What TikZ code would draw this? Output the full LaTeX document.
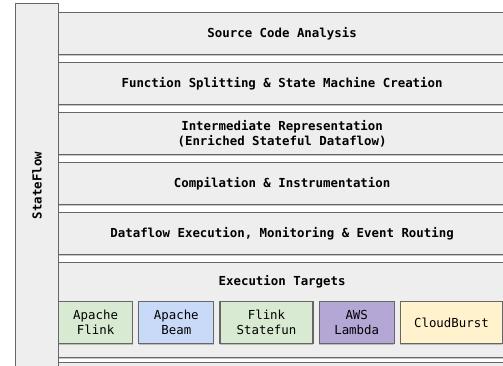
\documentclass[tikz,border=0pt]{standalone}
\usepackage{fontspec}
\setmonofont{DejaVu Sans Mono}
\usetikzlibrary{positioning,shadows}

\definecolor{layerfill}{HTML}{EEEEEE}
\definecolor{edgegray}{HTML}{666666}
\definecolor{flinkgreen}{HTML}{D9EAD3}
\definecolor{beamblue}{HTML}{C9DAF8}
\definecolor{lambdapurple}{HTML}{B4A7D6}
\definecolor{burstyellow}{HTML}{FFF2CC}

\begin{document}
\begin{tikzpicture}[x=1pt, y=1pt, node distance=6.8pt,
    base/.style={draw=edgegray, line width=1.2pt, fill=layerfill, inner sep=0pt,
        drop shadow={shadow xshift=0pt, shadow yshift=-1.6pt, opacity=0.45}},
    layer/.style={base, rectangle, minimum width=447pt, minimum height=42pt, align=center,
        font=\ttfamily\bfseries\fontsize{12.4}{14.5}\selectfont},
    target/.style={base, rectangle, minimum height=42pt, align=center,
        font=\ttfamily\fontsize{12.4}{15}\selectfont}]
    \useasboundingbox (0,0) rectangle (503,366);
    \clip (0,0) rectangle (503,366);

    \node(source)[layer, anchor=north west] at (58,354) {Source Code Analysis};
    \node(split)[layer, below=of source] {Function Splitting \& State Machine Creation};
    \node(ir)[layer, below=of split] {Intermediate Representation\\(Enriched Stateful Dataflow)};
    \node(compile)[layer, below=of ir] {Compilation \& Instrumentation};
    \node(runtime)[layer, below=of compile] {Dataflow Execution, Monitoring \& Event Routing};
    \node(targets)[layer, below=of runtime, minimum height=95pt] {};
    \node(next)[layer, below=4pt of targets] {};

    \node(targetlabel)[font=\ttfamily\bfseries\fontsize{12.4}{14.5}\selectfont, below=10pt of targets.north] {Execution Targets};
    \node(flink)[target, fill=flinkgreen, minimum width=74pt, anchor=north west] at (58,65) {Apache\\Flink};
    \node(beam)[target, fill=beamblue, minimum width=75pt, right=5pt of flink] {Apache\\Beam};
    \node(statefun)[target, fill=flinkgreen, minimum width=93pt, right=5pt of beam] {Flink\\Statefun};
    \node(lambda)[target, fill=lambdapurple, minimum width=75pt, right=5pt of statefun] {AWS\\Lambda};
    \node(cloudburst)[target, fill=burstyellow, minimum width=102pt, right=5pt of lambda] {CloudBurst};

    \node(stateflow)[base, rectangle, minimum width=43pt, minimum height=364pt, anchor=north west,
        font=\ttfamily\bfseries\fontsize{12.4}{14.5}\selectfont] at (15,363) {\rotatebox{90}{StateFlow}};
\end{tikzpicture}
\end{document}
